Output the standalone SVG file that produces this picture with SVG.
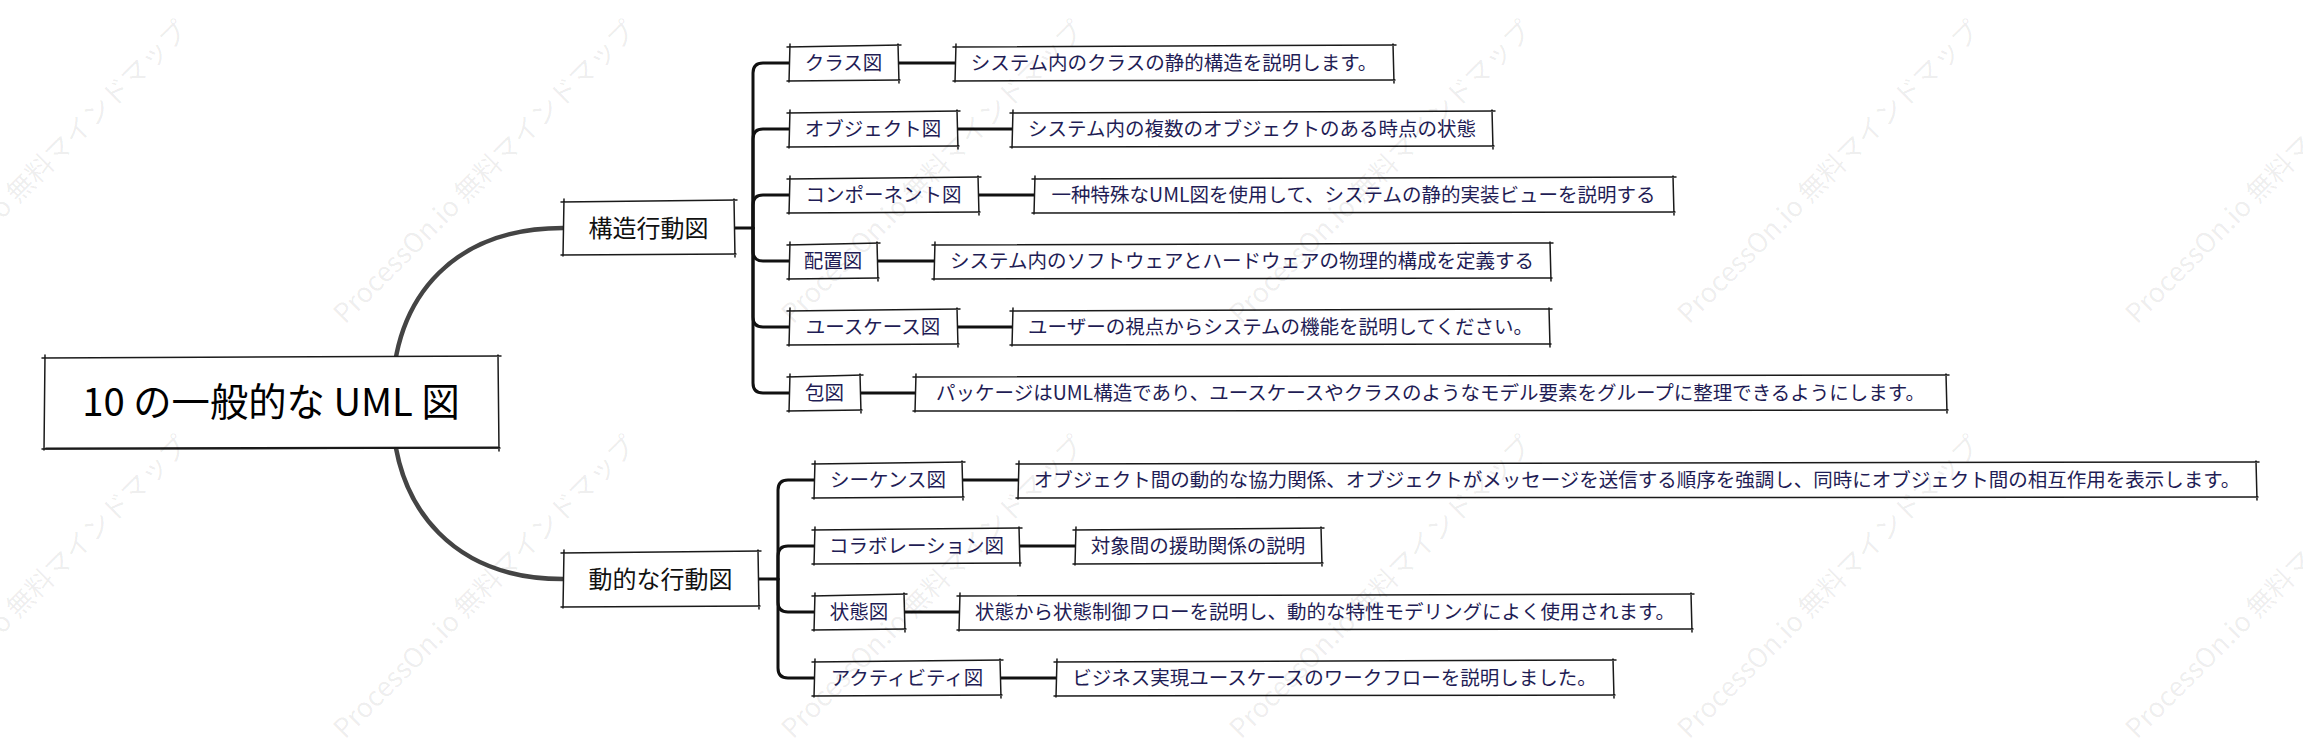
<svg xmlns="http://www.w3.org/2000/svg" width="2303" height="756" viewBox="0 0 2303 756">
<style>
  .bg{fill:#fff}
  .box{fill:#fff;stroke:none}
  .sk{fill:none;stroke:#1a1a1a;stroke-width:1.5;stroke-linecap:round}
  .skb{fill:none;stroke:#1a1a1a;stroke-width:2.2;stroke-linecap:round}
  .curve{fill:none;stroke:#444;stroke-width:4.5;stroke-linecap:round}
  .br{fill:none;stroke:#111;stroke-width:3;stroke-linecap:round;stroke-linejoin:round}
  .t0{font-family:"Noto Sans CJK JP","Noto Sans",sans-serif;font-size:38.3px;fill:#000;text-anchor:middle}
  .t1{font-family:"Noto Sans CJK JP","Noto Sans",sans-serif;font-size:24px;fill:#111;text-anchor:middle}
  .t2{font-family:"Noto Sans CJK JP","Noto Sans",sans-serif;font-size:19.5px;fill:#1f1d55;text-anchor:middle}
  .wm{font-family:"Noto Sans CJK JP","Noto Sans",sans-serif;font-size:27px;fill:#000;fill-opacity:0.075}
</style>
<rect class="bg" x="0" y="0" width="2303" height="756"/>

<g id="connectors">
  <path class="curve" d="M392,402 C392,290 460,228 563,228"/>
  <path class="curve" d="M392,403 C392,515 460,579 563,579"/>
  <path class="br" d="M734,228 H753"/>
  <path class="br" d="M753,228 V73 Q753,63 763,63 H789"/>
  <path class="br" d="M753,228 V139 Q753,129 763,129 H789"/>
  <path class="br" d="M753,228 V205 Q753,195 763,195 H789"/>
  <path class="br" d="M753,228 V251 Q753,261 763,261 H789"/>
  <path class="br" d="M753,228 V317 Q753,327 763,327 H789"/>
  <path class="br" d="M753,228 V383 Q753,393 763,393 H789"/>
  <path class="br" d="M898,63 H955"/>
  <path class="br" d="M957,129 H1012"/>
  <path class="br" d="M978,195 H1034"/>
  <path class="br" d="M877,261 H934"/>
  <path class="br" d="M957,327 H1012"/>
  <path class="br" d="M860,393 H915"/>
  <path class="br" d="M758,579 H778"/>
  <path class="br" d="M778,579 V490 Q778,480 788,480 H814"/>
  <path class="br" d="M778,579 V556 Q778,546 788,546 H814"/>
  <path class="br" d="M778,579 V602 Q778,612 788,612 H814"/>
  <path class="br" d="M778,579 V668 Q778,678 788,678 H814"/>
  <path class="br" d="M962,480 H1018"/>
  <path class="br" d="M1019,546 H1075"/>
  <path class="br" d="M904,612 H959"/>
  <path class="br" d="M1000,678 H1056"/>
</g>

<g id="root">
  <rect class="box" x="44" y="357" width="454" height="91"/>
  <path class="sk" d="M42,358 L501,356 M498,355 L499,451 M500,448 L42,449 M44,450 L45,355"/>
  <path class="skb" d="M46,448.5 L498,447.5"/>
  <text class="t0" x="271" y="416">10 の一般的な UML 図</text>
</g>

<g id="n-structure">
  <rect class="box" x="563" y="201" width="171" height="53"/>
  <path class="sk" d="M561,202 L737,200 M734,199 L735,257 M736,254 L561,255 M563,256 L564,199"/>
  <text class="t1" x="648.5" y="236.5">構造行動図</text>
</g>

<g id="n-behavior">
  <rect class="box" x="563" y="552" width="195" height="54"/>
  <path class="sk" d="M561,553 L761,551 M758,550 L759,609 M760,606 L561,607 M563,608 L564,550"/>
  <text class="t1" x="660.5" y="588">動的な行動図</text>
</g>

<g id="n-class">
  <rect class="box" x="789" y="46" width="109" height="34"/>
  <path class="sk" d="M787,47 L901,45 M898,44 L899,83 M900,80 L787,81 M789,82 L790,44"/>
  <text class="t2" x="843.5" y="70">クラス図</text>
</g>
<g id="d-class">
  <rect class="box" x="955" y="46" width="438" height="34"/>
  <path class="sk" d="M953,47 L1396,45 M1393,44 L1394,83 M1395,80 L953,81 M955,82 L956,44"/>
  <text class="t2" x="1174" y="70">システム内のクラスの静的構造を説明します。</text>
</g>

<g id="n-object">
  <rect class="box" x="789" y="112" width="168" height="34"/>
  <path class="sk" d="M787,113 L960,111 M957,110 L958,149 M959,146 L787,147 M789,148 L790,110"/>
  <text class="t2" x="873" y="136">オブジェクト図</text>
</g>
<g id="d-object">
  <rect class="box" x="1012" y="112" width="480" height="34"/>
  <path class="sk" d="M1010,113 L1495,111 M1492,110 L1493,149 M1494,146 L1010,147 M1012,148 L1013,110"/>
  <text class="t2" x="1252" y="136">システム内の複数のオブジェクトのある時点の状態</text>
</g>

<g id="n-component">
  <rect class="box" x="789" y="178" width="189" height="34"/>
  <path class="sk" d="M787,179 L981,177 M978,176 L979,215 M980,212 L787,213 M789,214 L790,176"/>
  <text class="t2" x="883.5" y="202">コンポーネント図</text>
</g>
<g id="d-component">
  <rect class="box" x="1034" y="178" width="639" height="34"/>
  <path class="sk" d="M1032,179 L1676,177 M1673,176 L1674,215 M1675,212 L1032,213 M1034,214 L1035,176"/>
  <text class="t2" x="1353.5" y="202">一种特殊なUML図を使用して、システムの静的実装ビューを説明する</text>
</g>

<g id="n-deploy">
  <rect class="box" x="789" y="244" width="88" height="34"/>
  <path class="sk" d="M787,245 L880,243 M877,242 L878,281 M879,278 L787,279 M789,280 L790,242"/>
  <text class="t2" x="833" y="268">配置図</text>
</g>
<g id="d-deploy">
  <rect class="box" x="934" y="244" width="616" height="34"/>
  <path class="sk" d="M932,245 L1553,243 M1550,242 L1551,281 M1552,278 L932,279 M934,280 L935,242"/>
  <text class="t2" x="1242" y="268">システム内のソフトウェアとハードウェアの物理的構成を定義する</text>
</g>

<g id="n-usecase">
  <rect class="box" x="789" y="310" width="168" height="34"/>
  <path class="sk" d="M787,311 L960,309 M957,308 L958,347 M959,344 L787,345 M789,346 L790,308"/>
  <text class="t2" x="873" y="334">ユースケース図</text>
</g>
<g id="d-usecase">
  <rect class="box" x="1012" y="310" width="537" height="34"/>
  <path class="sk" d="M1010,311 L1552,309 M1549,308 L1550,347 M1551,344 L1010,345 M1012,346 L1013,308"/>
  <text class="t2" x="1280.5" y="334">ユーザーの視点からシステムの機能を説明してください。</text>
</g>

<g id="n-package">
  <rect class="box" x="789" y="376" width="71" height="34"/>
  <path class="sk" d="M787,377 L863,375 M860,374 L861,413 M862,410 L787,411 M789,412 L790,374"/>
  <text class="t2" x="824.5" y="400">包図</text>
</g>
<g id="d-package">
  <rect class="box" x="915" y="376" width="1031" height="34"/>
  <path class="sk" d="M913,377 L1949,375 M1946,374 L1947,413 M1948,410 L913,411 M915,412 L916,374"/>
  <text class="t2" x="1430.5" y="400">パッケージはUML構造であり、ユースケースやクラスのようなモデル要素をグループに整理できるようにします。</text>
</g>

<g id="n-sequence">
  <rect class="box" x="814" y="463" width="148" height="34"/>
  <path class="sk" d="M812,464 L965,462 M962,461 L963,500 M964,497 L812,498 M814,499 L815,461"/>
  <text class="t2" x="888" y="487">シーケンス図</text>
</g>
<g id="d-sequence">
  <rect class="box" x="1018" y="463" width="1238" height="34"/>
  <path class="sk" d="M1016,464 L2259,462 M2256,461 L2257,500 M2258,497 L1016,498 M1018,499 L1019,461"/>
  <text class="t2" x="1637" y="487">オブジェクト間の動的な協力関係、オブジェクトがメッセージを送信する順序を強調し、同時にオブジェクト間の相互作用を表示します。</text>
</g>

<g id="n-collab">
  <rect class="box" x="814" y="529" width="205" height="34"/>
  <path class="sk" d="M812,530 L1022,528 M1019,527 L1020,566 M1021,563 L812,564 M814,565 L815,527"/>
  <text class="t2" x="916.5" y="553">コラボレーション図</text>
</g>
<g id="d-collab">
  <rect class="box" x="1075" y="529" width="246" height="34"/>
  <path class="sk" d="M1073,530 L1324,528 M1321,527 L1322,566 M1323,563 L1073,564 M1075,565 L1076,527"/>
  <text class="t2" x="1198" y="553">対象間の援助関係の説明</text>
</g>

<g id="n-state">
  <rect class="box" x="814" y="595" width="90" height="34"/>
  <path class="sk" d="M812,596 L907,594 M904,593 L905,632 M906,629 L812,630 M814,631 L815,593"/>
  <text class="t2" x="859" y="619">状態図</text>
</g>
<g id="d-state">
  <rect class="box" x="959" y="595" width="732" height="34"/>
  <path class="sk" d="M957,596 L1694,594 M1691,593 L1692,632 M1693,629 L957,630 M959,631 L960,593"/>
  <text class="t2" x="1325" y="619">状態から状態制御フローを説明し、動的な特性モデリングによく使用されます。</text>
</g>

<g id="n-activity">
  <rect class="box" x="814" y="661" width="186" height="34"/>
  <path class="sk" d="M812,662 L1003,660 M1000,659 L1001,698 M1002,695 L812,696 M814,697 L815,659"/>
  <text class="t2" x="907" y="685">アクティビティ図</text>
</g>
<g id="d-activity">
  <rect class="box" x="1056" y="661" width="557" height="34"/>
  <path class="sk" d="M1054,662 L1616,660 M1613,659 L1614,698 M1615,695 L1054,696 M1056,697 L1057,659"/>
  <text class="t2" x="1334.5" y="685">ビジネス実現ユースケースのワークフローを説明しました。</text>
</g>

<g id="watermark">
  <text class="wm" transform="translate(-103,325) rotate(-45)">ProcessOn.io 無料マインドマップ</text>
  <text class="wm" transform="translate(345,325) rotate(-45)">ProcessOn.io 無料マインドマップ</text>
  <text class="wm" transform="translate(793,325) rotate(-45)">ProcessOn.io 無料マインドマップ</text>
  <text class="wm" transform="translate(1241,325) rotate(-45)">ProcessOn.io 無料マインドマップ</text>
  <text class="wm" transform="translate(1689,325) rotate(-45)">ProcessOn.io 無料マインドマップ</text>
  <text class="wm" transform="translate(2137,325) rotate(-45)">ProcessOn.io 無料マインドマップ</text>
  <text class="wm" transform="translate(-103,740) rotate(-45)">ProcessOn.io 無料マインドマップ</text>
  <text class="wm" transform="translate(345,740) rotate(-45)">ProcessOn.io 無料マインドマップ</text>
  <text class="wm" transform="translate(793,740) rotate(-45)">ProcessOn.io 無料マインドマップ</text>
  <text class="wm" transform="translate(1241,740) rotate(-45)">ProcessOn.io 無料マインドマップ</text>
  <text class="wm" transform="translate(1689,740) rotate(-45)">ProcessOn.io 無料マインドマップ</text>
  <text class="wm" transform="translate(2137,740) rotate(-45)">ProcessOn.io 無料マインドマップ</text>
</g>
</svg>
